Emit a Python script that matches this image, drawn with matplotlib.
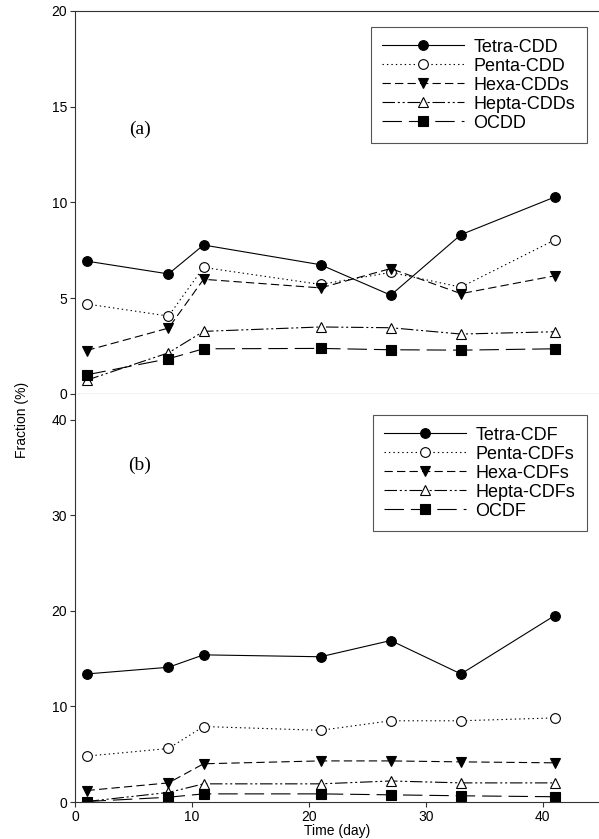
import matplotlib
matplotlib.use("Agg")
import matplotlib.pyplot as plt

plt.rcParams['font.family'] = ['Liberation Sans', 'DejaVu Sans']
plt.rcParams['lines.scale_dashes'] = False

days = [1, 8, 11, 21, 27, 33, 41]

# panel (a): dioxins, fraction (%)
tetra_cdd = [6.94, 6.27, 7.78, 6.75, 5.16, 8.32, 10.28]
penta_cdd = [4.70, 4.07, 6.61, 5.72, 6.35, 5.58, 8.04]
hexa_cdds = [2.27, 3.44, 5.99, 5.54, 6.55, 5.24, 6.17]
hepta_cdds = [0.72, 2.15, 3.27, 3.50, 3.46, 3.13, 3.25]
ocdd = [1.00, 1.84, 2.36, 2.38, 2.31, 2.29, 2.36]

# panel (b): furans, fraction (%)
tetra_cdf = [13.4, 14.1, 15.4, 15.2, 16.9, 13.4, 19.5]
penta_cdfs = [4.8, 5.6, 7.9, 7.5, 8.5, 8.5, 8.8]
hexa_cdfs = [1.2, 2.0, 4.0, 4.3, 4.3, 4.2, 4.1]
hepta_cdfs = [0.05, 1.0, 1.9, 1.9, 2.2, 2.0, 2.0]
ocdf = [0.05, 0.5, 0.85, 0.85, 0.75, 0.65, 0.55]

labels_a = ['Tetra-CDD', 'Penta-CDD', 'Hexa-CDDs', 'Hepta-CDDs', 'OCDD']
labels_b = ['Tetra-CDF', 'Penta-CDFs', 'Hexa-CDFs', 'Hepta-CDFs', 'OCDF']

# line style per homologue group: (dashes, marker, filled)
styles = [
    (None, 'o', True),
    ((1, 2.2), 'o', False),
    ((6, 3), 'v', True),
    ((9, 2, 1.5, 2, 1.5, 2), '^', False),
    ((14, 5), 's', True),
]


def draw_panel(ax, series, labels):
    for y, lab, (dash, mk, filled) in zip(series, labels, styles):
        line, = ax.plot(days, y, color='black', lw=0.8, marker=mk, ms=7,
                        mfc='black' if filled else 'white', mec='black', mew=0.8,
                        label=lab)
        if dash is not None:
            line.set_dashes(dash)
    for side in ['left', 'bottom', 'top']:
        ax.spines[side].set_color('#333333')
    ax.spines['right'].set_visible(False)
    ax.tick_params(direction='out', length=3.5, width=0.8, pad=2, labelsize=10,
                   color='#333333')
    ax.set_xlim(0, 44.8)


fig = plt.figure(figsize=(5.99, 8.39), dpi=100)
ax1 = fig.add_axes([0.125, 0.5304, 0.875, 0.4565])
ax2 = fig.add_axes([0.125, 0.0441, 0.875, 0.4863])

draw_panel(ax1, [tetra_cdd, penta_cdd, hexa_cdds, hepta_cdds, ocdd], labels_a)
ax1.set_ylim(0, 20)
ax1.set_yticks([0, 5, 10, 15, 20])
ax1.tick_params(axis='x', bottom=False, labelbottom=False)
ax1.text(0.124, 0.692, '(a)', transform=ax1.transAxes, ha='center', va='center',
         fontsize=14, family='Liberation Serif')

draw_panel(ax2, [tetra_cdf, penta_cdfs, hexa_cdfs, hepta_cdfs, ocdf], labels_b)
ax2.spines['top'].set_visible(False)
ax2.set_ylim(0, 42.7)
ax2.set_yticks([0, 10, 20, 30, 40])
ax2.set_xticks([0, 10, 20, 30, 40])
ax2.set_xlabel('Time (day)', fontsize=10, labelpad=0.5)
ax2.text(0.124, 0.826, '(b)', transform=ax2.transAxes, ha='center', va='center',
         fontsize=14, family='Liberation Serif')

leg_kw = dict(loc='upper right', fontsize=13, numpoints=1, handlelength=4.5,
              handletextpad=0.55, labelspacing=0.11, borderpad=0.65,
              borderaxespad=0, fancybox=False, framealpha=1, edgecolor='#555555')
leg1 = ax1.legend(bbox_to_anchor=(0.977, 0.958), **leg_kw)
leg2 = ax2.legend(bbox_to_anchor=(0.977, 0.9485), **leg_kw)
for leg in (leg1, leg2):
    leg.get_frame().set_linewidth(0.8)

fig.text(0.037, 0.50, 'Fraction (%)', rotation=90, ha='center', va='center', fontsize=10)

fig.savefig('out.png', dpi=100)
